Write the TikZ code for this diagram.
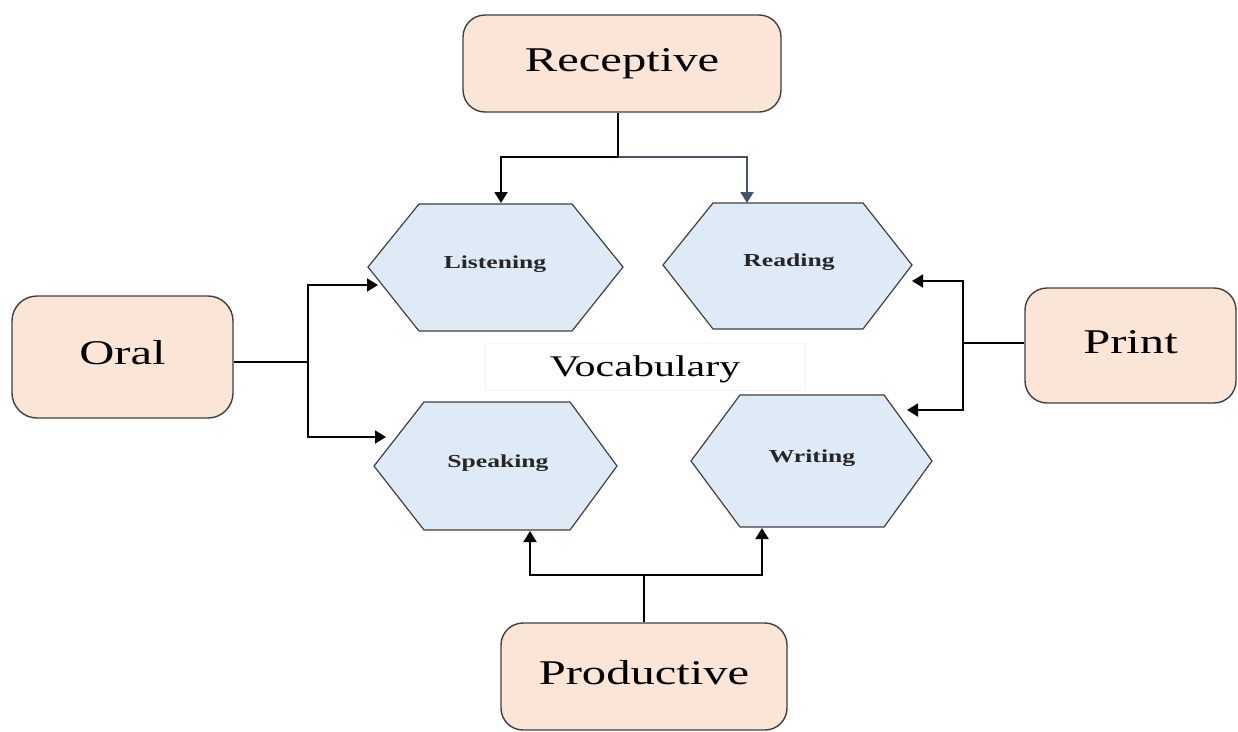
\documentclass[tikz,border=0pt]{standalone}
\usepackage{fontspec}
\setmainfont{Liberation Serif}
\usepackage{graphicx}
\usetikzlibrary{arrows.meta}
\definecolor{peach}{HTML}{FBE5D6}
\definecolor{hexfill}{HTML}{DEEBF7}
\definecolor{edge}{HTML}{404040}
\definecolor{slate}{HTML}{44546A}
\newcommand\wide[1]{\scalebox{1.4}[1]{#1}}
\begin{document}
\begin{tikzpicture}[x=1pt,y=-1pt,
 bigbox/.style={draw=edge, fill=peach, rounded corners=22pt, line width=1.4pt, inner sep=0pt, text height=23pt, text depth=8pt, font=\fontsize{34.7}{40}\selectfont},
 hexlabel/.style={inner sep=0pt, text height=12.3pt, text depth=0pt, font=\fontsize{18.3}{22}\selectfont\bfseries, text=black!85},
 hexshape/.style={draw=edge, fill=hexfill, line width=1.2pt, line join=miter},
 link/.style={draw=black, line width=1.9pt},
 arr/.style={link, -{Triangle[length=11pt,width=13pt]}},
]
\useasboundingbox (0,0) rectangle (1238,731);

% central label
\node[draw=black!4, line width=0.8pt, minimum width=320pt, minimum height=47pt, inner sep=0pt, text height=20pt, text depth=0pt, font=\fontsize{30}{36}\selectfont] (voc) at (645,366.5) {\wide{Vocabulary}};

% hexagons
\draw[hexshape] (368,267) -- (419,204) -- (572,204) -- (623,267) -- (572,331) -- (419,331) -- cycle;
\node[hexlabel] (lis) at (495,262) {\wide{Listening}};
\draw[hexshape] (663,265) -- (713,203) -- (863,203) -- (912,265) -- (863,329) -- (713,329) -- cycle;
\node[hexlabel] (rea) at (789,260) {\wide{Reading}};
\draw[hexshape] (374,466) -- (424,402) -- (570,402) -- (617,466) -- (570,530) -- (424,530) -- cycle;
\node[hexlabel] (spk) at (498,461) {\wide{Speaking}};
\draw[hexshape] (691,461) -- (740,395) -- (884,395) -- (932,461) -- (884,527) -- (740,527) -- cycle;
\node[hexlabel] (wri) at (812,456) {\wide{Writing}};

% boxes
\node[bigbox, minimum width=318pt, minimum height=97pt] (rec) at (622,63.5) {\wide{Receptive}};
\node[bigbox, rounded corners=25pt, minimum width=221pt, minimum height=122pt] (oral) at (122.5,357) {\wide{Oral}};
\node[bigbox, minimum width=211pt, minimum height=115pt] (print) at (1130.5,345.5) {\wide{Print}};
\node[bigbox, minimum width=286pt, minimum height=107pt] (prod) at (644,676.5) {\wide{Productive}};

% Receptive connectors
\coordinate (recJ) at (618,157);
\coordinate (lisTop) at (501,203);
\coordinate (reaTop) at (747,203);
\draw[arr, draw=slate] (recJ) -| (reaTop);
\draw[arr] (recJ) -| (lisTop);
\draw[link] (rec.south -| recJ) -- (recJ);

% Oral connectors
\coordinate (oralJ) at (308,362);
\coordinate (lisIn) at (378,285);
\coordinate (spkIn) at (386,437);
\draw[link] (oral.east |- oralJ) -- (oralJ);
\draw[arr] (oralJ) |- (lisIn);
\draw[arr] (oralJ) |- (spkIn);

% Print connectors
\coordinate (prJ) at (963,343);
\coordinate (reaIn) at (912,281);
\coordinate (wriIn) at (907,410);
\draw[link] (print.west |- prJ) -- (prJ);
\draw[arr] (prJ) |- (reaIn);
\draw[arr] (prJ) |- (wriIn);

% Productive connectors
\coordinate (pdJ) at (644,575);
\coordinate (spkBot) at (530,531);
\coordinate (wriBot) at (762,528);
\draw[link] (prod.north) -- (pdJ);
\draw[arr] (pdJ) -| (spkBot);
\draw[arr] (pdJ) -| (wriBot);
\end{tikzpicture}
\end{document}
